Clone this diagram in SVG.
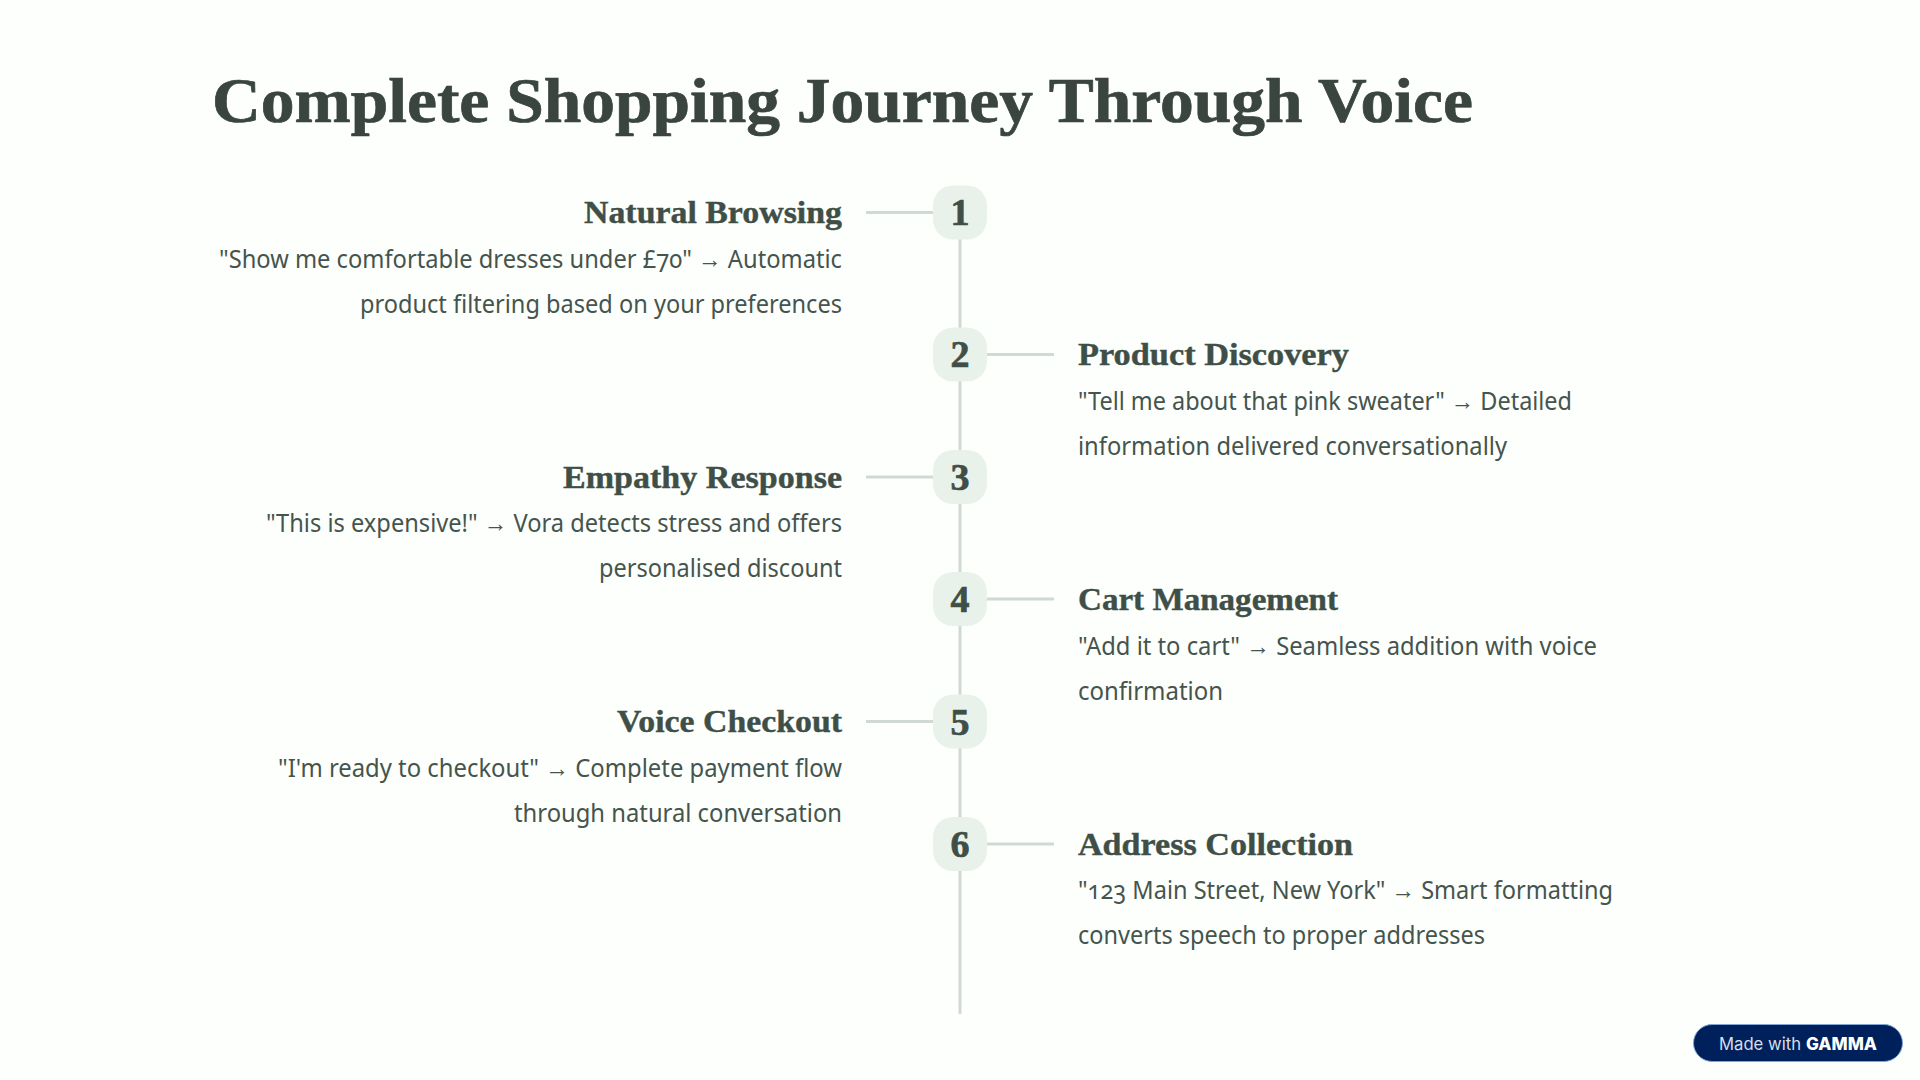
<svg xmlns="http://www.w3.org/2000/svg" width="1920" height="1080" viewBox="0 0 1920 1080">
<style>
.bg{fill:#fcfffc}
.title{font:bold 64px "Liberation Serif",serif;fill:#3a4540;stroke:#3a4540;stroke-width:.7}
.h{font:bold 31px "Liberation Serif",serif;fill:#3f4f47;stroke:#3f4f47;stroke-width:.4}
.b{font:25px "Noto Sans",sans-serif;fill:#45544c;font-feature-settings:"onum" 1}
.n{font:bold 38px "Liberation Serif",serif;fill:#3f4f47;stroke:#3f4f47;stroke-width:.7;text-anchor:middle}
.e{text-anchor:end}
.box{fill:#e9f2ea}
.ln{stroke:#d0dad2;stroke-width:3;fill:none}
</style>
<defs><rect id="badge" x="-27" y="-27" width="54" height="54" rx="20" class="box"/></defs>
<rect class="bg" width="1920" height="1080"/>
<text class="title" x="212" y="122" textLength="1261" lengthAdjust="spacingAndGlyphs">Complete Shopping Journey Through Voice</text>
<g id="connectors">
<path class="ln" d="M960 212V1014"/>
<path class="ln" d="M866 212.500H933M987 354.500H1054M866 477H933M987 599H1054M866 721.500H933M987 844H1054"/>
</g>
<g id="node1"><use href="#badge" x="960" y="212.500"/><text class="n" x="960" y="225">1</text>
<text class="h e" x="842" y="222.500" textLength="258" lengthAdjust="spacingAndGlyphs">Natural Browsing</text>
<text class="b e" x="842" y="268" textLength="623" lengthAdjust="spacingAndGlyphs">"Show me comfortable dresses under £70" → Automatic</text>
<text class="b e" x="842" y="313" textLength="482" lengthAdjust="spacingAndGlyphs">product filtering based on your preferences</text></g>
<g id="node2"><use href="#badge" x="960" y="354.500"/><text class="n" x="960" y="367">2</text>
<text class="h" x="1078" y="364.500" textLength="271" lengthAdjust="spacingAndGlyphs">Product Discovery</text>
<text class="b" x="1078" y="410" textLength="494" lengthAdjust="spacingAndGlyphs">"Tell me about that pink sweater" → Detailed</text>
<text class="b" x="1078" y="455" textLength="429" lengthAdjust="spacingAndGlyphs">information delivered conversationally</text></g>
<g id="node3"><use href="#badge" x="960" y="477"/><text class="n" x="960" y="490">3</text>
<text class="h e" x="842" y="487.500" textLength="279" lengthAdjust="spacingAndGlyphs">Empathy Response</text>
<text class="b e" x="842" y="532" textLength="576" lengthAdjust="spacingAndGlyphs">"This is expensive!" → Vora detects stress and offers</text>
<text class="b e" x="842" y="577" textLength="243" lengthAdjust="spacingAndGlyphs">personalised discount</text></g>
<g id="node4"><use href="#badge" x="960" y="599"/><text class="n" x="960" y="612">4</text>
<text class="h" x="1078" y="609.500" textLength="260" lengthAdjust="spacingAndGlyphs">Cart Management</text>
<text class="b" x="1078" y="655" textLength="519" lengthAdjust="spacingAndGlyphs">"Add it to cart" → Seamless addition with voice</text>
<text class="b" x="1078" y="700" textLength="145" lengthAdjust="spacingAndGlyphs">confirmation</text></g>
<g id="node5"><use href="#badge" x="960" y="721.500"/><text class="n" x="960" y="734.500">5</text>
<text class="h e" x="842" y="731.500" textLength="225" lengthAdjust="spacingAndGlyphs">Voice Checkout</text>
<text class="b e" x="842" y="777" textLength="564" lengthAdjust="spacingAndGlyphs">"I'm ready to checkout" → Complete payment flow</text>
<text class="b e" x="842" y="822" textLength="328" lengthAdjust="spacingAndGlyphs">through natural conversation</text></g>
<g id="node6"><use href="#badge" x="960" y="844"/><text class="n" x="960" y="857">6</text>
<text class="h" x="1078" y="854.500" textLength="275" lengthAdjust="spacingAndGlyphs">Address Collection</text>
<text class="b" x="1078" y="899" textLength="535" lengthAdjust="spacingAndGlyphs">"123 Main Street, New York" → Smart formatting</text>
<text class="b" x="1078" y="944" textLength="407" lengthAdjust="spacingAndGlyphs">converts speech to proper addresses</text></g>
<g id="badge-made">
<rect x="1693.500" y="1024.500" width="209" height="37" rx="18.500" fill="#00205b" stroke="#7fa6d6" stroke-width="1"/>
<text x="1719" y="1049.500" font-family="Inter,sans-serif" font-size="17" fill="#d6dfeb" textLength="82" lengthAdjust="spacingAndGlyphs">Made with</text>
<text x="1806" y="1049.500" font-family="Inter,sans-serif" font-size="17" font-weight="800" fill="#fff" textLength="71" lengthAdjust="spacingAndGlyphs">GAMMA</text>
</g>
</svg>
